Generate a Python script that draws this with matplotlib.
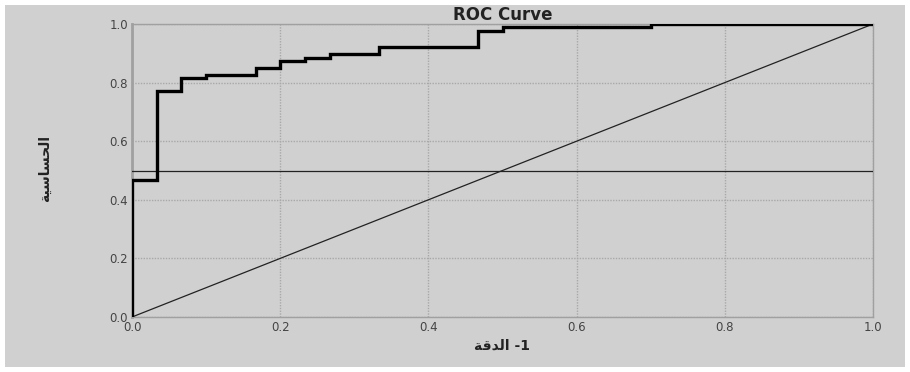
import numpy as np
import matplotlib
matplotlib.use("Agg")
import matplotlib.pyplot as plt
from matplotlib.patches import Rectangle

# ROC step curve (1 - specificity, sensitivity)
fpr = [0.0, 0.0, 0.0333, 0.0333, 0.0667, 0.0667, 0.1, 0.1, 0.1667, 0.1667,
       0.2, 0.2, 0.2333, 0.2333, 0.2667, 0.2667, 0.3333, 0.3333, 0.4667,
       0.4667, 0.5, 0.5, 0.7, 0.7, 1.0]
tpr = [0.0, 0.467, 0.467, 0.77, 0.77, 0.815, 0.815, 0.827, 0.827, 0.85,
       0.85, 0.873, 0.873, 0.885, 0.885, 0.897, 0.897, 0.92, 0.92,
       0.977, 0.977, 0.989, 0.989, 1.0, 1.0]
ref_x = [0.0, 1.0]
ref_y = [0.0, 1.0]
cut_level = 0.5
ticks = [0.0, 0.2, 0.4, 0.6, 0.8, 1.0]
tick_labels = ["0.0", "0.2", "0.4", "0.6", "0.8", "1.0"]

# arabic labels in presentation forms, visual order (no shaping in mpl)
xlab = "\uFE94\uFED7\uFEAA\uFEDF\uFE8D -1"          # 1- الدقة
ylab = "\uFE94\uFEF4\uFEB3\uFE8E\uFEB4\uFEA4\uFEDF\uFE8D"  # الحساسية

bg = "#d0d0d0"
fig = plt.figure(figsize=(9.1, 3.72), dpi=100, facecolor="white")
fig.patches.append(Rectangle((5 / 910, 5 / 372), 900 / 910, 362 / 372,
                             transform=fig.transFigure, facecolor=bg,
                             edgecolor="none", zorder=-10))

ax = fig.add_axes([132 / 910, 1 - 317 / 372, 741 / 910, 293 / 372])
ax.set_facecolor(bg)

ax.plot(fpr, tpr, color="black", lw=2.4, solid_joinstyle="miter", zorder=4)
ax.plot(ref_x, ref_y, color="#222222", lw=0.9, zorder=3)
ax.axhline(cut_level, color="#222222", lw=0.9, zorder=3)

ax.set_xlim(0, 1)
ax.set_ylim(0, 1)
ax.set_xticks(ticks)
ax.set_yticks(ticks)
ax.set_xticklabels(tick_labels, family="DejaVu Sans")
ax.set_yticklabels(tick_labels, family="DejaVu Sans")
ax.tick_params(length=0, labelsize=8.5, colors="#444444", pad=3)
ax.grid(True, color="#a8a8a8", lw=1.0, ls=(0, (1, 1)))
for s in ax.spines.values():
    s.set_color("#a0a0a0")
    s.set_linewidth(1.0)
ax.spines["left"].set_linewidth(2.0)

ax.set_title("ROC Curve", fontsize=12, fontweight="bold", color="#222222",
             pad=2, family="DejaVu Sans")
fig.text(502 / 910, 1 - 346 / 372, xlab, ha="center", va="center",
         fontsize=10, fontweight="bold", color="#222222", family="DejaVu Sans")
fig.text(45 / 910, 1 - 168 / 372, ylab, ha="center", va="center",
         rotation=90, fontsize=10, fontweight="bold", color="#222222",
         family="DejaVu Sans")

fig.savefig("out.png", dpi=100)
